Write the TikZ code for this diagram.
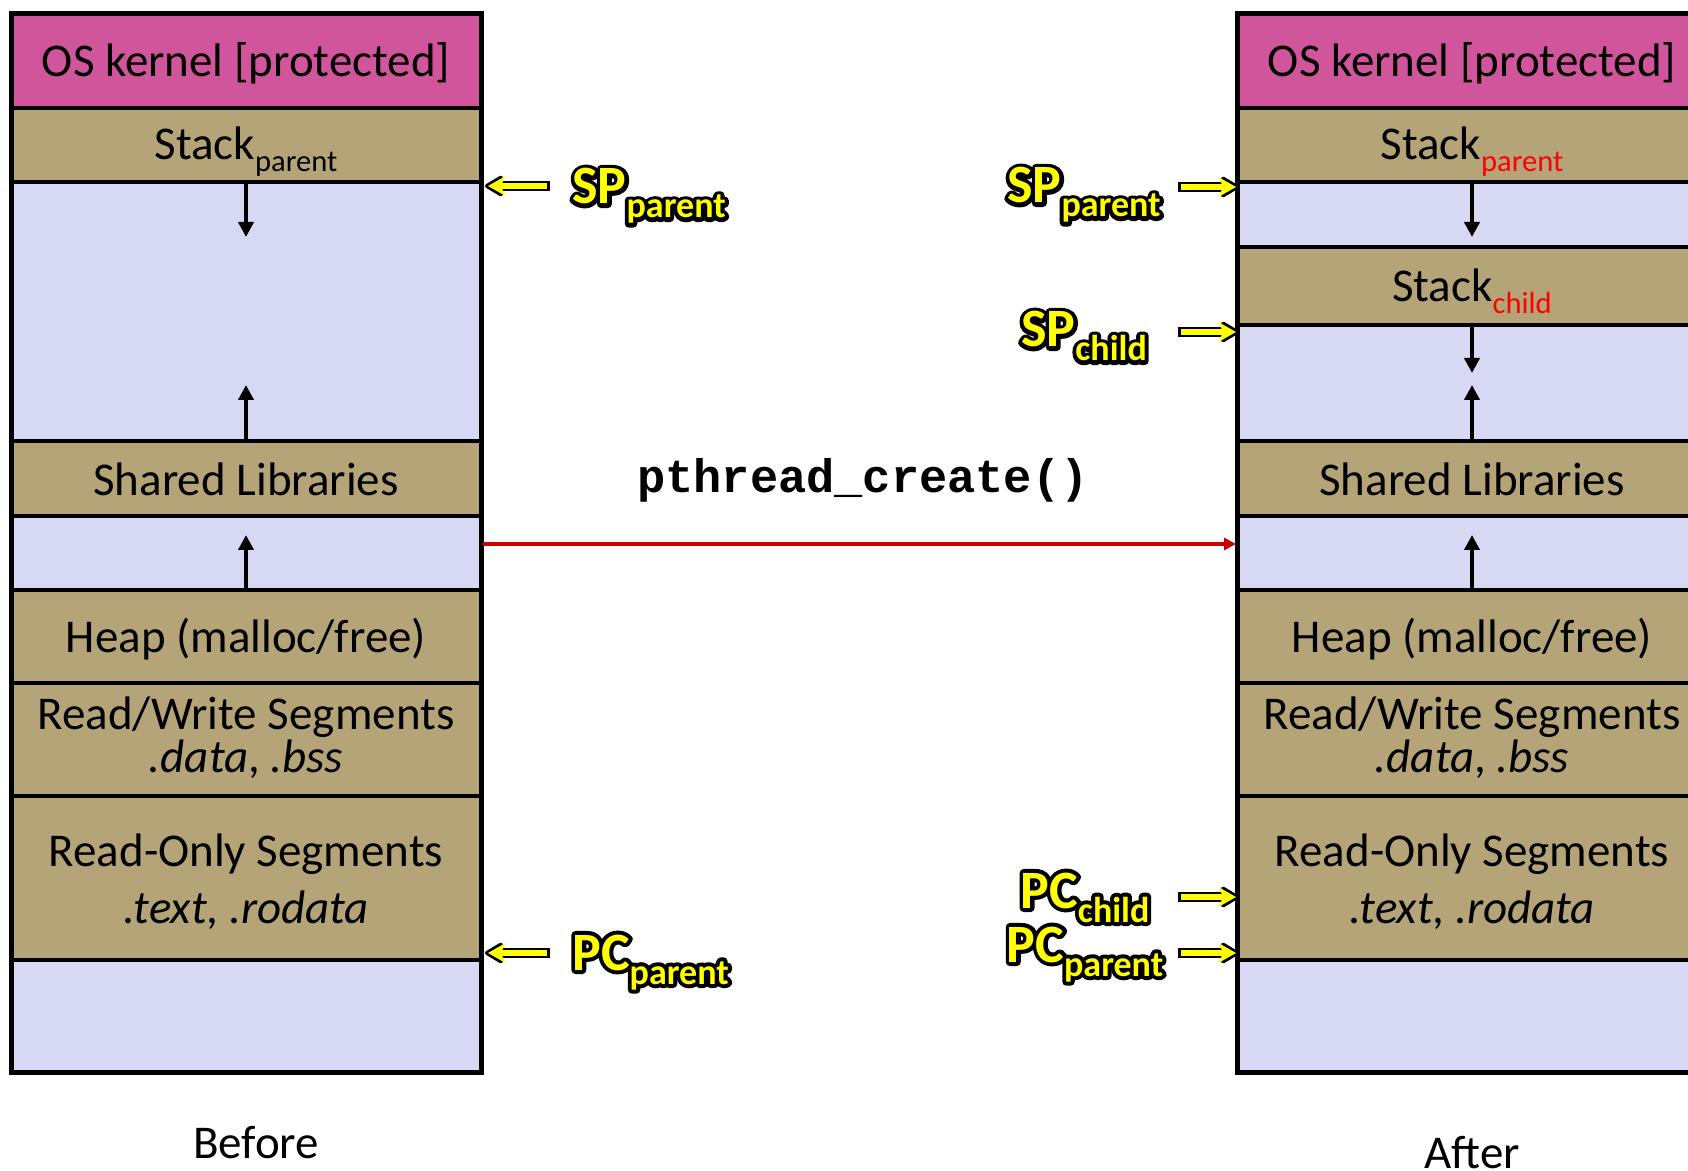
\documentclass[tikz,border=0pt]{standalone}
\usepackage{fontspec}
\setmainfont{Carlito}
\newfontfamily\codefont{Liberation Mono}
\usetikzlibrary{arrows.meta}

\definecolor{kernpink}{RGB}{208,85,155}
\definecolor{segtan}{RGB}{181,164,120}
\definecolor{freelav}{RGB}{215,216,244}
\definecolor{callred}{RGB}{204,0,0}
\definecolor{ptryellow}{RGB}{255,255,0}

% yellow bold text with a black outline: a stroked black copy under a filled yellow one
\newcommand\halo[1]{{%
  \rlap{\color{black}\special{pdf:literal direct 1 Tr 4 w 1 j}#1\special{pdf:literal direct 0 Tr}}%
  {\color{ptryellow}#1}}}
\newcommand\ptr[2]{\halo{\fontsize{27}{30}\selectfont\bfseries #1\raisebox{-7pt}{\fontsize{18}{20}\selectfont #2}}}
\newcommand\sub[2][black]{\raisebox{-6pt}{\fontsize{15.3}{18}\selectfont\color{#1}#2}}

% one memory segment: name, x centre, top, bottom, fill
\newcommand\segment[5]{%
  \node[memseg, fill=#5, minimum height={(#4-#3)*0.5pt}] (#1) at (#2,{(#3+#4)/2}) {};}

\begin{document}
\begin{tikzpicture}[x=0.5pt, y=-0.5pt,
  memseg/.style={rectangle, draw=black, line width=2pt, inner sep=0pt,
    minimum width=235pt},
  outerframe/.style={draw=black, line width=2.5pt},
  txt/.style={anchor=base, inner sep=0pt, font=\fontsize{23.5}{28}\selectfont},
  codetxt/.style={anchor=base, inner sep=0pt, font=\codefont\bfseries\fontsize{23.5}{28}\selectfont},
  growarrow/.style={line width=2pt, -{Triangle[length=7.5pt, width=7.5pt]}},
  ptrlabel/.style={anchor=base, inner sep=0pt},
  ptrback/.style={line width=5pt, black, line join=round, shorten >=-1.5pt, shorten <=-1.3pt,
    -{Stealth[length=11pt, width=13pt, inset=2.6pt, round]}},
  ptrfront/.style={line width=3.2pt, ptryellow, -{Stealth[length=8.5pt, width=9.5pt, inset=2pt]}},
  callarrow/.style={line width=2pt, callred, -{Triangle[length=6pt, width=6pt]}}
]
\useasboundingbox (0,0) rectangle (1688,1171);

% ---------- address space before ----------
\segment{Lkern}{246}{14}{108}{kernpink}
\segment{Lstack}{246}{108}{182}{segtan}
\segment{Lfree}{246}{182}{441}{freelav}
\segment{Lshared}{246}{441}{516}{segtan}
\segment{Lgap}{246}{516}{590}{freelav}
\segment{Lheap}{246}{590}{683}{segtan}
\segment{Lrw}{246}{683}{796}{segtan}
\segment{Lro}{246}{796}{960}{segtan}
\segment{Llow}{246}{960}{1072}{freelav}
\draw[outerframe] ([shift={(1pt,-1pt)}]Lkern.north west) rectangle ([shift={(-1pt,1pt)}]Llow.south east);

\node[txt] (LkernT) at (246,77) {OS kernel [protected]};
\node[txt] (LstackT) at (246,160) {Stack\sub{parent}};
\node[txt] (LsharedT) at (246,496) {Shared Libraries};
\node[txt] (LheapT) at (246,653) {Heap (malloc/free)};
\node[txt] (LrwT) at (246,729) {Read/Write Segments};
\node[txt] (LrwS) at (246,772) {\textit{.data}, \textit{.bss}};
\node[txt] (LroT) at (246,866) {Read-Only Segments};
\node[txt] (LroS) at (246,923) {\textit{.text}, \textit{.rodata}};

\coordinate (LstackEnd) at (246,237);
\coordinate (LsharedEnd) at (246,385);
\coordinate (LheapEnd) at (246,535);
\draw[growarrow] (Lstack.south) -- (LstackEnd);
\draw[growarrow] (Lshared.north) -- (LsharedEnd);
\draw[growarrow] (Lheap.north) -- (LheapEnd);

% ---------- address space after ----------
\segment{Rkern}{1472}{14}{108}{kernpink}
\segment{Rstackp}{1472}{108}{182}{segtan}
\segment{Rfreep}{1472}{182}{247}{freelav}
\segment{Rstackc}{1472}{247}{325}{segtan}
\segment{Rfreec}{1472}{325}{441}{freelav}
\segment{Rshared}{1472}{441}{516}{segtan}
\segment{Rgap}{1472}{516}{590}{freelav}
\segment{Rheap}{1472}{590}{683}{segtan}
\segment{Rrw}{1472}{683}{796}{segtan}
\segment{Rro}{1472}{796}{960}{segtan}
\segment{Rlow}{1472}{960}{1072}{freelav}
\draw[outerframe] ([shift={(1pt,-1pt)}]Rkern.north west) rectangle ([shift={(-1pt,1pt)}]Rlow.south east);

\node[txt] (RkernT) at (1472,77) {OS kernel [protected]};
\node[txt] (RstackpT) at (1472,160) {Stack\sub[red]{parent}};
\node[txt] (RstackcT) at (1472,302) {Stack\sub[red]{child}};
\node[txt] (RsharedT) at (1472,496) {Shared Libraries};
\node[txt] (RheapT) at (1472,653) {Heap (malloc/free)};
\node[txt] (RrwT) at (1472,729) {Read/Write Segments};
\node[txt] (RrwS) at (1472,772) {\textit{.data}, \textit{.bss}};
\node[txt] (RroT) at (1472,866) {Read-Only Segments};
\node[txt] (RroS) at (1472,923) {\textit{.text}, \textit{.rodata}};

\coordinate (RstackpEnd) at (1472,237);
\coordinate (RstackcEnd) at (1472,373);
\coordinate (RsharedEnd) at (1472,385);
\coordinate (RheapEnd) at (1472,535);
\draw[growarrow] (Rstackp.south) -- (RstackpEnd);
\draw[growarrow] (Rstackc.south) -- (RstackcEnd);
\draw[growarrow] (Rshared.north) -- (RsharedEnd);
\draw[growarrow] (Rheap.north) -- (RheapEnd);

% ---------- the call ----------
\node[codetxt] (callT) at (863,493) {pthread\_create()};
\coordinate (callFrom) at (483,544);
\coordinate (callTo) at (1236,544);
\draw[callarrow] (callFrom) -- (callTo);

% ---------- register pointers, before ----------
\node[ptrlabel, anchor=base west] (LspT) at (572,204) {\ptr{SP}{parent}};
\node[ptrlabel, anchor=base west] (LpcT) at (572,970) {\ptr{PC}{parent}};
\coordinate (LspTail) at (547,186);
\coordinate (LspTip) at (488,186);
\coordinate (LpcTail) at (547,953);
\coordinate (LpcTip) at (488,953);
\foreach \t/\h in {LspTail/LspTip, LpcTail/LpcTip} {
  \draw[ptrback] (\t) -- (\h);
  \draw[ptrfront] (\t) -- (\h);
}

% ---------- register pointers, after ----------
\node[ptrlabel] (RspT) at (1084,203) {\ptr{SP}{parent}};
\node[ptrlabel] (RspcT) at (1084,347) {\ptr{SP}{child}};
\node[ptrlabel] (RpccT) at (1085,908) {\ptr{PC}{child}};
\node[ptrlabel] (RpcpT) at (1085,962) {\ptr{PC}{parent}};
\coordinate (RspTail) at (1181,187);
\coordinate (RspTip) at (1236,187);
\coordinate (RspcTail) at (1181,332);
\coordinate (RspcTip) at (1236,332);
\coordinate (RpccTail) at (1181,897);
\coordinate (RpccTip) at (1236,897);
\coordinate (RpcpTail) at (1181,953);
\coordinate (RpcpTip) at (1236,953);
\foreach \t/\h in {RspTail/RspTip, RspcTail/RspcTip, RpccTail/RpccTip, RpcpTail/RpcpTip} {
  \draw[ptrback] (\t) -- (\h);
  \draw[ptrfront] (\t) -- (\h);
}

% ---------- captions ----------
\node[txt] (before) at (256,1158) {Before};
\node[txt] (after) at (1472,1168) {After};
\end{tikzpicture}
\end{document}
